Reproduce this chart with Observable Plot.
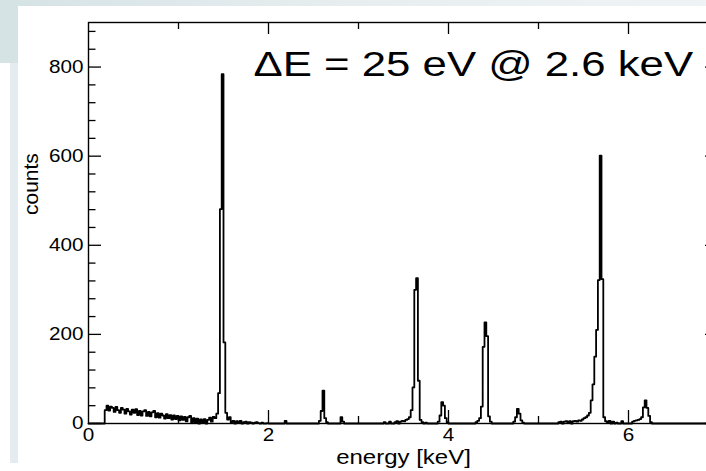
<!DOCTYPE html>
<html><head><meta charset="utf-8">
<script src="https://cdn.jsdelivr.net/npm/d3@7"></script>
<script src="https://cdn.jsdelivr.net/npm/@observablehq/plot@0.6"></script>
<style>
html,body{margin:0;padding:0;background:#fff;overflow:hidden;width:706px;height:471px;}
#corner{position:absolute;left:0;top:0;width:18px;height:63px;background:#d6e3e5}
#topstrip{position:absolute;left:18px;top:0;width:688px;height:6px;background:linear-gradient(to right,#d6e3e5,#e8eef0 50%,#eff3f6)}
#leftstrip{position:absolute;left:10px;top:63px;width:8px;height:400px;background:#e4ecef}
#chart{position:absolute;left:18px;top:6px;}
</style></head><body>
<div id="corner"></div><div id="topstrip"></div><div id="leftstrip"></div>
<div id="chart"></div>
<script>
// Histogram: bin start energy (keV) and bin width (keV)
const binStart = 0;
const binWidth = 0.02;
// counts per bin, 10 bins per row (row k starts at 0.2*k keV)
const counts = [
  0,0,0,0,0,0,0,0,0,30,          // 0.00
  40,29,38,35,26,37,30,24,35,31, // 0.20
  22,33,27,20,31,24,32,19,28,18, // 0.40
  27,30,17,26,16,25,28,14,23,13, // 0.60
  22,18,11,21,12,19,9,18,10,17,  // 0.80
  7,16,8,15,5,14,17,3,12,2,      // 1.00
  11,0,9,1,10,0,8,13,4,15,       // 1.20
  12,22,68,481,784,182,24,9,14,3,// 1.40
  6,0,5,2,6,0,3,4,0,3,           // 1.60
  2,0,2,3,1,0,2,0,0,1,           // 1.80
  0,0,0,0,0,0,0,0,0,6,           // 2.00
  0,0,0,0,0,0,0,0,0,0,           // 2.20
  0,0,0,0,0,0,0,0,6,28,          // 2.40
  74,12,3,0,0,0,0,0,0,0,         // 2.60
  14,4,0,0,0,0,0,0,0,0,          // 2.80
  0,0,0,0,0,0,0,0,0,0,           // 3.00
  0,0,0,0,3,0,0,4,0,0,           // 3.20
  3,5,0,4,6,5,8,10,14,30,        // 3.40
  81,300,326,96,8,3,0,2,0,0,     // 3.60
  0,0,0,0,4,18,48,40,12,3,       // 3.80
  0,0,0,0,0,0,0,0,0,0,           // 4.00
  0,0,0,0,0,3,6,12,38,172,       // 4.20
  227,196,16,4,0,0,0,0,0,0,      // 4.40
  0,0,0,0,0,0,4,14,33,22,        // 4.60
  7,2,0,0,0,0,0,0,0,0,           // 4.80
  0,0,0,0,0,0,0,0,0,0,           // 5.00
  0,3,4,0,4,5,3,5,0,5,           // 5.20
  6,4,7,6,9,12,14,18,24,52,      // 5.40
  88,150,210,322,601,324,14,5,3,6, // 5.60
  0,4,0,2,0,0,5,0,0,0,           // 5.80
  0,0,4,6,7,8,10,14,36,52,       // 6.00
  35,17,3,0,0,0,0,0,0,0,         // 6.20
  0,0,0,0,0,0,0,0,0,0,           // 6.40
  0,0,0,0,0,0,0,0,0,0,           // 6.60
  0,0,0,0,0,0,0,0,0,0            // 6.80
];
const xDomain = [0, 7];
const yDomain = [0, 900];
const xLabels = [0, 2, 4, 6];
const xMajor = [2, 4, 6];
const xMinor = [1, 3, 5];
const yLabels = [0, 200, 400, 600, 800];
const yMinor = [40,80,120,160,240,280,320,360,440,480,520,560,640,680,720,760,840,880];
const xTitle = "energy [keV]";
const yTitle = "counts";
const annotation = "\u0394E = 25 eV @ 2.6 keV";

const hist = counts.map((c, i) => ({e: binStart + i * binWidth, c}));
hist.push({e: binStart + counts.length * binWidth, c: 0});

const W = 688, H = 465, mL = 70, mR = -12, mT = 16, mB = 48;
const fw = W - mL - mR, fh = H - mT - mB;
const ink = "#000";

const plot = Plot.plot({
  width: W, height: H,
  marginLeft: mL, marginRight: mR, marginTop: mT, marginBottom: mB,
  style: {background: "transparent", fontFamily: "'Liberation Sans', Arial, Helvetica, sans-serif", color: "#000"},
  x: {domain: xDomain},
  y: {domain: yDomain},
  marks: [
    Plot.frame({stroke: ink, strokeWidth: 1.4}),
    Plot.tickX(xMajor, {x: d => d, insetTop: fh - 13, stroke: ink, strokeWidth: 1.3}),
    Plot.tickX(xMinor, {x: d => d, insetTop: fh - 7, stroke: ink, strokeWidth: 1.3}),
    Plot.tickX(xMajor, {x: d => d, insetBottom: fh - 12, stroke: ink, strokeWidth: 1.3}),
    Plot.tickX(xMinor, {x: d => d, insetBottom: fh - 7, stroke: ink, strokeWidth: 1.3}),
    Plot.tickY(yLabels, {y: d => d, insetRight: fw - 13, stroke: ink, strokeWidth: 1.3}),
    Plot.tickY(yMinor, {y: d => d, insetRight: fw - 7.5, stroke: ink, strokeWidth: 1.3}),
    Plot.tickY(yLabels, {y: d => d, insetLeft: fw - 13, stroke: ink, strokeWidth: 1.3}),
    Plot.tickY(yMinor, {y: d => d, insetLeft: fw - 7.5, stroke: ink, strokeWidth: 1.3}),
    Plot.axisX({ticks: xLabels, tickSize: 0, tickPadding: 5, fontSize: 18, label: null, tickFormat: d => String(d)}),
    Plot.axisY({ticks: yLabels, tickSize: 0, tickPadding: 5, fontSize: 18, label: null, tickFormat: d => String(d)}),
    Plot.lineY(hist, {x: "e", y: "c", curve: "step-after", stroke: ink, strokeWidth: 1.8}),
    Plot.text([xTitle], {frameAnchor: "bottom", dy: 34, lineAnchor: "middle", fontSize: 20, fill: ink, className: "stretch"}),
    Plot.text([yTitle], {frameAnchor: "left", dx: -57, dy: -8, rotate: -90, lineAnchor: "middle", fontSize: 21, fill: ink}),
    Plot.text([annotation], {frameAnchor: "top-left", dx: 165, dy: 42, textAnchor: "start", lineAnchor: "middle", fontSize: 35, fill: ink, className: "wide"})
  ]
});
// the reference's lettering is horizontally wider than the font: stretch text around its anchor
function stretch(sel, k) {
  plot.querySelectorAll(sel).forEach(el => {
    const t = el.getAttribute("transform") || "";
    el.setAttribute("transform", (t + ` scale(${k},1)`).trim());
  });
}
stretch('g[aria-label="x-axis tick label"] text', 1.15);
stretch('g[aria-label="y-axis tick label"] text', 1.15);
stretch('.stretch text', 1.2);
stretch('.wide text', 1.25);
document.getElementById("chart").appendChild(plot);
</script>
</body></html>
